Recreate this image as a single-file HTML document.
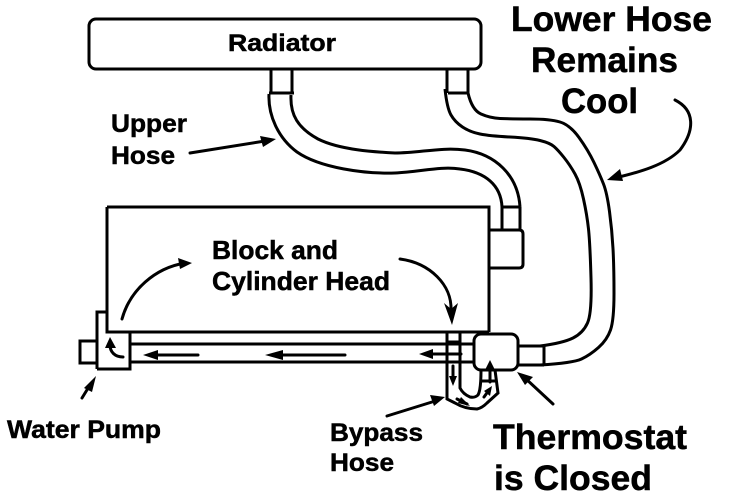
<!DOCTYPE html>
<html><head><meta charset="utf-8"><style>
html,body{margin:0;padding:0;background:#fff}
svg{display:block}
text{font-family:"Liberation Sans",sans-serif;font-weight:bold;fill:#000;stroke:#000;stroke-width:.5}
</style></head><body>
<svg width="736" height="498" viewBox="0 0 736 498" xmlns="http://www.w3.org/2000/svg">
<g fill="none" stroke="#000" stroke-width="3">
<rect x="89" y="19" width="392" height="50" rx="7"/>
<path d="M271 69V93M292 69V93M269 93H294M447 69V93M468 69V93M448 93H468"/>
<path d="M269 94C268 115 278 138 297 152C320 168 365 174 395 173C420 172 440 166 460 169C485 172 501 185 502 207"/>
<path d="M291 95C290 115 298 128 318 139C340 150 375 152 395 153C420 153 440 147 465 150C495 154 518 175 520 207"/>
<path d="M445 89Q447 108 451 115Q455 122 462.5 127Q470 132 480 134Q490 136 510 137Q530 138 540 140.5Q550 143 554 146.5Q558 150 564 157.5Q570 165 575 174Q580 183 583.5 199Q587 215 588.5 229Q590 243 591 278Q592 313 587.5 323Q583 333 573 338Q563 343 540 346"/>
<path d="M468 93Q472 110 481 114Q490 118 500 118.5Q510 119 530 119Q550 119 560 122Q570 125 579 137.5Q588 150 594 162.5Q600 175 603.5 184Q607 193 609.5 211.5Q612 230 613 248.5Q614 267 614 293.5Q614 320 610.5 330Q607 340 598.5 347.5Q590 355 581.5 359Q573 363 540 365"/>
<path d="M107 207H489V332M107 207V332H489"/>
<path d="M489 230H519Q523 230 523 234V264Q523 268 519 268H489"/>
<path d="M502 207V230M520 207V230M502 207H520"/>
<path d="M97 369V312H107M97 369H130V332M97 341H80V363H97"/>
<path d="M130 344H474M130 362H474"/>
<rect x="474" y="334" width="44" height="36" rx="7"/>
<path d="M518 346H544V365M518 365H544"/>
<path d="M447 332H460M447 342H460M447 332V399L455 403Q465 409 477 409Q482 408 487 403L498 393L495 370M460 332V388Q463 394 470 397Q475 398 478 395Q481 390 481 370M481 381H496"/>
</g>
<g fill="none" stroke="#000" stroke-width="3" stroke-linecap="round">
<path d="M122 319C130 290 155 268 185 263"/>
<path d="M400 259C430 263 452 285 451 310"/>
<path d="M190 153L265 141"/>
<path d="M675 100C695 110 695 130 680 150C665 165 640 172 615 178"/>
<path d="M155 355H198M280 355H345M430 354H461"/>
<path d="M82 398L90 385"/>
<path d="M387 416L432 402"/>
<path d="M553 404L525 378"/>
<path d="M123 357C115 357 110 352 110 345"/>
<path d="M453 366V378M490 382V368M457 399L467 404M484 397L489 390"/>
</g>
<g fill="#000" stroke="none">
<path d="M192 263L178 258L180 269Z"/>
<path d="M452 325L444 303L451 309L458 303Z"/>
<path d="M276 139L260 136L263 147Z"/>
<path d="M607 180L620 169L623 181Z"/>
<path d="M143 355L158 350V360Z"/>
<path d="M265 355L283 350V360Z"/>
<path d="M419 354L433 349V359Z"/>
<path d="M96 376L84 388L92 392Z"/>
<path d="M445 397L430 395L434 406Z"/>
<path d="M517 372L533 377L525 385Z"/>
<path d="M110 337L105 348H116Z"/>
<path d="M453 386L449 376H457Z"/>
<path d="M490 360L485 370H495Z"/>
<path d="M470 406L461 397L458 403Z"/>
<path d="M492 386L484 391L490 396Z"/>
</g>
<text x="228" y="51" font-size="24" textLength="108" lengthAdjust="spacingAndGlyphs">Radiator</text>
<text x="511" y="31" font-size="35" textLength="201" lengthAdjust="spacingAndGlyphs">Lower Hose</text>
<text x="531" y="72" font-size="35" textLength="147" lengthAdjust="spacingAndGlyphs">Remains</text>
<text x="561" y="113" font-size="35" textLength="77" lengthAdjust="spacingAndGlyphs">Cool</text>
<text x="111" y="132" font-size="25" textLength="76" lengthAdjust="spacingAndGlyphs">Upper</text>
<text x="111" y="164" font-size="25" textLength="64" lengthAdjust="spacingAndGlyphs">Hose</text>
<text x="212" y="259" font-size="26" textLength="126" lengthAdjust="spacingAndGlyphs">Block and</text>
<text x="212" y="290" font-size="26" textLength="178" lengthAdjust="spacingAndGlyphs">Cylinder Head</text>
<text x="7" y="438" font-size="25" textLength="154" lengthAdjust="spacingAndGlyphs">Water Pump</text>
<text x="330" y="441" font-size="25" textLength="93" lengthAdjust="spacingAndGlyphs">Bypass</text>
<text x="330" y="471" font-size="25" textLength="64" lengthAdjust="spacingAndGlyphs">Hose</text>
<text x="493" y="449" font-size="35" textLength="194" lengthAdjust="spacingAndGlyphs">Thermostat</text>
<text x="494" y="490" font-size="35" textLength="158" lengthAdjust="spacingAndGlyphs">is Closed</text>
</svg>
</body></html>
